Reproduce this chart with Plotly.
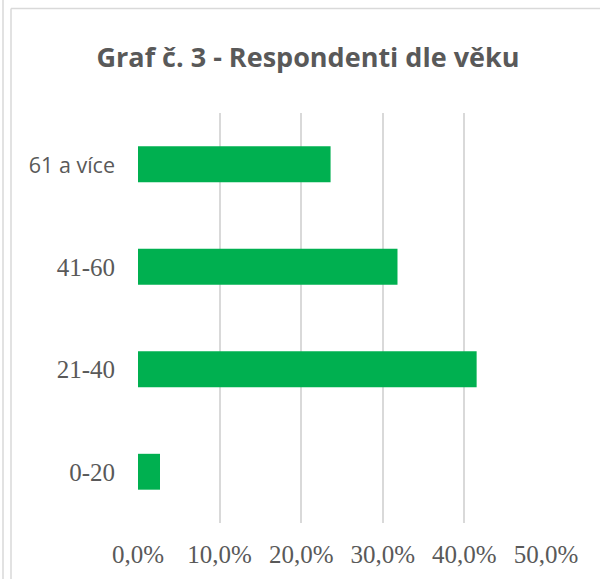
import plotly.graph_objects as go

categories = ["0-20", "21-40", "41-60", "61 a více"]
values = [0.027, 0.415, 0.318, 0.236]
tick_vals = [0, 0.1, 0.2, 0.3, 0.4, 0.5]
title_text = "Graf č. 3 - Respondenti dle věku"

GREEN = "#00b050"
GRAY = "#595959"
GRID = "#d9d9d9"
SERIF = "Liberation Serif, Times New Roman, serif"
SANS = "Open Sans, Noto Sans, sans-serif"

ticktext = []
for c in categories:
    if any(ch.isalpha() for ch in c):
        ticktext.append(f"<span style='font-family:{SANS};font-size:21.5px'>{c}</span>")
    else:
        ticktext.append(c)

fig = go.Figure(go.Bar(
    x=values, y=categories, orientation="h",
    marker=dict(color=GREEN, line=dict(width=0)),
    width=0.35,
))

L, R, T, B = 138, 54, 113, 56
W, H = 600, 579
pw, ph = W - L - R, H - T - B

def px(x):
    return (x - L) / pw

def py(y):
    return (H - B - y) / ph

fig.update_layout(
    width=W, height=H,
    margin=dict(l=L, r=R, t=T, b=B),
    paper_bgcolor="white", plot_bgcolor="white",
    separators=", ",
    showlegend=False,
    title=dict(text=f"<b>{title_text}</b>", x=308 / W, xref="container", xanchor="center",
               y=1 - 58 / H, yanchor="middle", yref="container",
               font=dict(family=SANS, size=27, color=GRAY)),
    xaxis=dict(range=[0, 0.5], tickvals=tick_vals, tickformat=".1%",
               showgrid=True, gridcolor=GRID, gridwidth=1.5, zeroline=False,
               showline=False, ticks="", ticklabelstandoff=14,
               tickfont=dict(family=SERIF, size=25, color=GRAY), fixedrange=True),
    yaxis=dict(categoryorder="array", categoryarray=categories,
               tickvals=categories, ticktext=ticktext,
               showgrid=False, zeroline=False, showline=False, ticks="",
               ticklabelstandoff=22,
               tickfont=dict(family=SERIF, size=25, color=GRAY), fixedrange=True),
    shapes=[
        dict(type="line", xref="paper", yref="paper", x0=px(11), x1=px(11), y0=py(8.5), y1=py(H + 5),
             line=dict(color=GRID, width=1.5)),
        dict(type="line", xref="paper", yref="paper", x0=px(3), x1=px(3), y0=py(-5), y1=py(H + 5),
             line=dict(color=GRID, width=1.5)),
        dict(type="line", xref="paper", yref="paper", x0=px(11), x1=px(W + 5), y0=py(8.5), y1=py(8.5),
             line=dict(color=GRID, width=1.5)),
    ],
)

fig.write_html("out.html", config={"displayModeBar": False},
               post_script="document.body.style.margin='0';document.body.style.overflow='hidden';")
